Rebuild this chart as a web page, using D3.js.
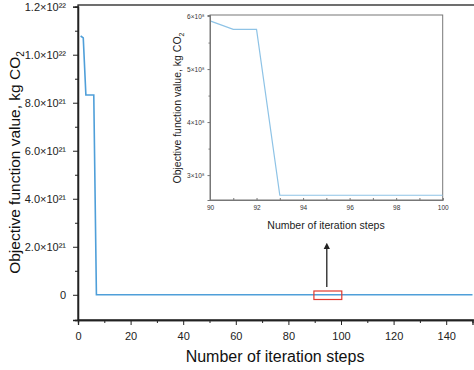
<!DOCTYPE html>
<html><head><meta charset="utf-8">
<script src="https://cdn.jsdelivr.net/npm/d3@7"></script>
<style>body{margin:0;background:#fff}svg{display:block}text{font-family:Arial,"Liberation Sans",sans-serif}</style>
</head><body>
<script>
// main series (sparse points of the optimisation history)
const steps = [1, 2, 3, 6, 7, 90, 91, 92, 93, 100, 150];
const values = [1.078e22, 1.07e22, 8.32e21, 8.32e21, 6.0e8, 5.91e8, 5.75e8, 5.75e8, 2.62e8, 2.62e8, 2.62e8];
const xTicks = [0, 20, 40, 60, 80, 100, 120, 140];
const yTicks = [0, 2e21, 4e21, 6e21, 8e21, 1e22, 1.2e22];
const yTickLabels = ["0", "2.0×10²¹", "4.0×10²¹", "6.0×10²¹", "8.0×10²¹", "1.0×10²²", "1.2×10²²"];
// inset (values in units of 1e8)
const insetSteps = [90, 91, 92, 93, 94, 95, 96, 97, 98, 99, 100];
const insetValues = [5.91, 5.75, 5.75, 2.62, 2.62, 2.62, 2.62, 2.62, 2.62, 2.62, 2.62];
const insetXTicks = [90, 92, 94, 96, 98, 100];
const insetYTicks = [3, 4, 5, 6];
const insetYLabels = ["3×10⁸", "4×10⁸", "5×10⁸", "6×10⁸"];

const W = 474, H = 370;
const svg = d3.select("body").append("svg").attr("width", W).attr("height", H);
const m = {l: 78, t: 5, r: 472, b: 320};
const x = d3.scaleLinear().domain([0, 150]).range([m.l, m.r + 0.5]);
const y = d3.scaleLinear().domain([-1.05e21, 1.2e22]).range([m.b, 6.7]);

// frame
svg.append("rect").attr("x", m.l).attr("y", m.t).attr("width", m.r - m.l + 4).attr("height", m.b - m.t)
  .attr("fill", "none").attr("stroke", "#222").attr("stroke-width", 1.3);

// line
const line = d3.line().x((d, i) => x(steps[i])).y(d => y(d));
svg.append("path").datum(values).attr("d", line).attr("fill", "none").attr("stroke", "#4f9fd9").attr("stroke-width", 1.6);

// axes
const gx = svg.append("g").attr("transform", `translate(0,${m.b})`);
gx.call(d3.axisBottom(x).tickValues(xTicks).tickSize(5).tickFormat(d3.format("d")));
gx.append("g").call(d3.axisBottom(x).tickValues(d3.range(10, 150, 20)).tickSize(3).tickFormat(""));
const gy = svg.append("g").attr("transform", `translate(${m.l},0)`);
gy.call(d3.axisLeft(y).tickValues(yTicks).tickSize(5).tickFormat((d, i) => yTickLabels[i]));
gy.append("g").call(d3.axisLeft(y).tickValues(d3.range(1e21, 1.2e22, 2e21)).tickSize(3).tickFormat(""));
[gx, gy].forEach(g => {
  g.selectAll(".domain").attr("stroke", "#222").attr("stroke-width", 1.3);
  g.selectAll(".tick line").attr("stroke", "#222");
  g.selectAll("text").attr("fill", "#222").style("font-size", "11px");
});
gx.selectAll("text").attr("dy", "1.1em");
gy.selectAll("text").attr("dx", "-4px");
svg.append("text").attr("x", (m.l + m.r) / 2).attr("y", 362).attr("text-anchor", "middle")
  .style("font-size", "16px").attr("fill", "#111").text("Number of iteration steps");
svg.append("text").attr("transform", `translate(20,${(m.t + m.b) / 2}) rotate(-90)`).attr("text-anchor", "middle")
  .style("font-size", "15.5px").attr("fill", "#111")
  .html('Objective function value, kg CO<tspan dy="4" font-size="10">2</tspan>');

// red highlight box and arrow
svg.append("rect").attr("x", x(89.7)).attr("y", 291).attr("width", x(100.3) - x(89.7)).attr("height", 8.5)
  .attr("fill", "none").attr("stroke", "#e03a30").attr("stroke-width", 1.2);
svg.append("defs").append("marker").attr("id", "ah").attr("viewBox", "0 0 10 10").attr("refX", 5).attr("refY", 5)
  .attr("markerWidth", 5).attr("markerHeight", 6).attr("orient", "auto")
  .append("path").attr("d", "M0,0 L10,5 L0,10 z").attr("fill", "#222");
svg.append("line").attr("x1", x(94.6)).attr("x2", x(94.6)).attr("y1", 287).attr("y2", 246)
  .attr("stroke", "#222").attr("stroke-width", 1.3).attr("marker-end", "url(#ah)");

// inset
const ix = d3.scaleLinear().domain([90, 100]).range([210, 442.7]);
const iy = d3.scaleLinear().domain([2.53, 6.02]).range([200, 15]);
const ins = svg.append("g");
ins.append("rect").attr("x", 210).attr("y", 15).attr("width", 232.7).attr("height", 185)
  .attr("fill", "#fff").attr("stroke", "#777").attr("stroke-width", 1);
const iline = d3.line().x((d, i) => ix(insetSteps[i])).y(d => iy(d));
ins.append("path").datum(insetValues).attr("d", iline).attr("fill", "none").attr("stroke", "#8ec3e6").attr("stroke-width", 1.2);
const igx = ins.append("g").attr("transform", "translate(0,200)");
igx.call(d3.axisBottom(ix).tickValues(insetXTicks).tickSize(0).tickPadding(5).tickFormat(d3.format("d")));
igx.append("g").call(d3.axisTop(ix).tickValues(d3.range(90, 101, 1)).tickSize(2).tickFormat(""));
const igy = ins.append("g").attr("transform", "translate(210,0)");
igy.call(d3.axisLeft(iy).tickValues(insetYTicks).tickSize(2.5).tickPadding(3).tickFormat((d, i) => insetYLabels[i]));
igy.append("g").call(d3.axisLeft(iy).tickValues([3.5, 4.5, 5.5]).tickSize(1.5).tickFormat(""));
[igx, igy].forEach(g => {
  g.selectAll(".domain").attr("stroke", "#777");
  g.selectAll(".tick line").attr("stroke", "#777");
  g.selectAll("text").attr("fill", "#333").style("font-size", "6.5px");
});
ins.append("text").attr("x", 326).attr("y", 229).attr("text-anchor", "middle")
  .style("font-size", "10.5px").attr("fill", "#222").text("Number of iteration steps");
ins.append("text").attr("transform", `translate(181,108) rotate(-90)`).attr("text-anchor", "middle")
  .style("font-size", "10.5px").attr("fill", "#222")
  .html('Objective function value, kg CO<tspan dy="3" font-size="7">2</tspan>');
</script>
</body></html>
